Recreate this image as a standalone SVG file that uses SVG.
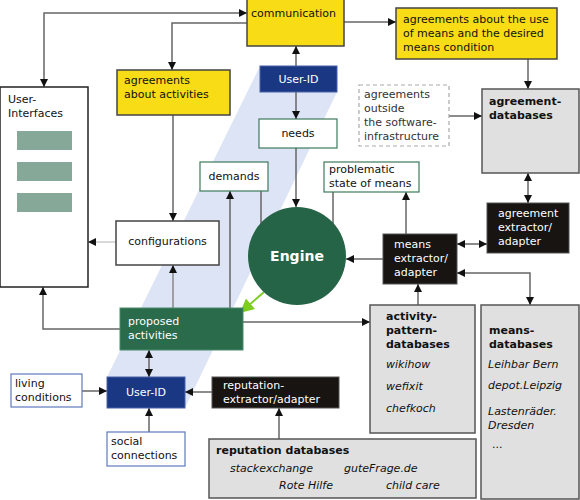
<svg xmlns="http://www.w3.org/2000/svg" width="580" height="500" viewBox="0 0 580 500">
<style>
text{font-family:"DejaVu Sans","Liberation Sans",sans-serif;font-size:11px;fill:#111}
.w{fill:#fff}
.b{font-weight:bold}
.i{font-style:italic}
.yel{fill:#f7dc16;stroke:#444;stroke-width:1.5}
.wg{fill:#fff;stroke:#3d7a5c;stroke-width:1.2}
.wb{fill:#fff;stroke:#6079bd;stroke-width:1.2}
.wk{fill:#fff;stroke:#444;stroke-width:1.5}
.db{fill:#e0e0e0;stroke:#555;stroke-width:1.5}
.blk{fill:#171411;stroke:#555;stroke-width:1}
.uid{fill:#1a3784;stroke:#4a62a8;stroke-width:1}
.c{fill:none;stroke:#666;stroke-width:1.5}
</style>
<defs>
<marker id="ah" viewBox="0 0 10 10" refX="10" refY="5" markerWidth="8" markerHeight="9" markerUnits="userSpaceOnUse" orient="auto-start-reverse"><path d="M0,0 L10,5 L0,10 z" fill="#111"/></marker>
<marker id="ag" viewBox="0 0 10 10" refX="10" refY="5" markerWidth="14" markerHeight="14" markerUnits="userSpaceOnUse" orient="auto"><path d="M0,0 L10,5 L0,10 z" fill="#7ccc22"/></marker>
</defs>
<rect width="580" height="500" fill="#fff"/>
<polygon points="260,66 337,66 337,92 185,408 107,408 107,377" fill="#dde4f6"/>

<g id="connectors">
<path class="c" d="M247,13 H44 V87" marker-start="url(#ah)" marker-end="url(#ah)"/>
<path class="c" d="M247,23 H172 V70" marker-end="url(#ah)"/>
<path class="c" d="M344,22 H396" marker-end="url(#ah)"/>
<path class="c" d="M296,66 V46" marker-end="url(#ah)"/>
<path class="c" d="M296,92 V119" marker-end="url(#ah)"/>
<path class="c" d="M296,148 V207" marker-end="url(#ah)"/>
<path class="c" d="M528,59 V89" marker-end="url(#ah)"/>
<path class="c" d="M449,116 H482" marker-end="url(#ah)"/>
<path class="c" d="M528,173 V203" marker-start="url(#ah)" marker-end="url(#ah)"/>
<path class="c" d="M457,244 H487" marker-start="url(#ah)" marker-end="url(#ah)"/>
<path class="c" d="M457,273 H530 V305" marker-start="url(#ah)" marker-end="url(#ah)"/>
<path class="c" d="M418,305 V284" marker-end="url(#ah)"/>
<path class="c" d="M406,234 V192" marker-end="url(#ah)"/>
<path class="c" d="M333,192 V241" marker-end="url(#ah)"/>
<path class="c" d="M383,259 H346" marker-end="url(#ah)"/>
<path class="c" d="M261,191 V240" marker-end="url(#ah)"/>
<path class="c" d="M230,308 V191" marker-end="url(#ah)"/>
<path class="c" d="M173,115 V221" marker-end="url(#ah)"/>
<path class="c" d="M116,242 H88" stroke="#ccc" style="stroke:#ccc" marker-end="url(#ah)"/>
<path class="c" d="M173,308 V265" style="stroke:#888" marker-end="url(#ah)"/>
<path class="c" d="M121,329 H43 V287" marker-end="url(#ah)"/>
<path d="M264,292 L240,313" fill="none" stroke="#7ccc22" stroke-width="2" marker-end="url(#ag)"/>
<path class="c" d="M243,322 H370" marker-end="url(#ah)"/>
<path class="c" d="M149,350 V377" marker-start="url(#ah)" marker-end="url(#ah)"/>
<path class="c" d="M82,391 H107" marker-end="url(#ah)"/>
<path class="c" d="M149,432 V408" marker-end="url(#ah)"/>
<path class="c" d="M212,392 H185" marker-end="url(#ah)"/>
<path class="c" d="M279,439 V408" marker-end="url(#ah)"/>
</g>

<g id="communication"><rect class="yel" x="247" y="-1" width="97" height="47"/><text x="251" y="17">communication</text></g>
<g id="agreements-use"><rect class="yel" x="396" y="8" width="161" height="51"/><text x="403" y="23">agreements about the use</text><text x="403" y="37">of means and the desired</text><text x="403" y="51">means condition</text></g>
<g id="agreements-activities"><rect class="yel" x="117" y="70" width="113" height="45"/><text x="124" y="84">agreements</text><text x="124" y="98">about activities</text></g>
<g id="user-interfaces"><rect x="0" y="87" width="88" height="200" fill="#fff" stroke="#222" stroke-width="1.5"/><text x="8" y="103">User-</text><text x="8" y="117">Interfaces</text><rect x="17" y="131" width="55" height="19" fill="#86a898"/><rect x="17" y="162" width="55" height="19" fill="#86a898"/><rect x="17" y="193" width="55" height="19" fill="#86a898"/></g>
<g id="userid-top"><rect class="uid" x="260" y="66" width="77" height="26"/><text class="w" x="298.5" y="83" text-anchor="middle">User-ID</text></g>
<g id="needs"><rect class="wg" x="259" y="119" width="78" height="29"/><text x="298" y="137" text-anchor="middle">needs</text></g>
<g id="outside"><rect x="359" y="85" width="90" height="61" fill="#fff" stroke="#aaa" stroke-width="1.2" stroke-dasharray="4,3"/><text x="364" y="98" style="fill:#333">agreements</text><text x="364" y="112" style="fill:#333">outside</text><text x="364" y="126" style="fill:#333">the software-</text><text x="364" y="140" style="fill:#333">infrastructure</text></g>
<g id="agreement-db"><rect class="db" x="482" y="89" width="97" height="84"/><text class="b" x="489" y="105">agreement-</text><text class="b" x="489" y="119">databases</text></g>
<g id="demands"><rect class="wg" x="200" y="162" width="68" height="29"/><text x="234" y="180" text-anchor="middle">demands</text></g>
<g id="problematic"><rect class="wg" x="324" y="162" width="95" height="30"/><text x="329" y="173">problematic</text><text x="329" y="187">state of means</text></g>
<g id="agreement-extractor"><rect class="blk" x="487" y="203" width="82" height="50"/><text class="w" x="498" y="217">agreement</text><text class="w" x="498" y="231">extractor/</text><text class="w" x="498" y="245">adapter</text></g>
<g id="configurations"><rect class="wk" x="116" y="221" width="103" height="44"/><text x="167.5" y="245" text-anchor="middle">configurations</text></g>
<g id="engine"><circle cx="297" cy="256" r="49" fill="#266447"/><text class="w b" x="297" y="261" text-anchor="middle" style="font-size:14px">Engine</text></g>
<g id="means-extractor"><rect class="blk" x="383" y="234" width="74" height="50"/><text class="w" x="394" y="248">means</text><text class="w" x="394" y="262">extractor/</text><text class="w" x="394" y="276">adapter</text></g>
<g id="proposed"><rect x="120" y="308" width="123" height="42" fill="#2a6b4b" stroke="#4a8a6a" stroke-width="1"/><text class="w" x="128" y="325">proposed</text><text class="w" x="128" y="339">activities</text></g>
<g id="activity-db"><rect class="db" x="370" y="305" width="105" height="128"/><text class="b" x="386" y="320">activity-</text><text class="b" x="386" y="334">pattern-</text><text class="b" x="386" y="348">databases</text><text class="i" x="386" y="368">wikihow</text><text class="i" x="386" y="390">wefixit</text><text class="i" x="386" y="412">chefkoch</text></g>
<g id="means-db"><rect class="db" x="481" y="305" width="98" height="194"/><text class="b" x="489" y="334">means-</text><text class="b" x="489" y="348">databases</text><text class="i" x="488" y="368">Leihbar Bern</text><text class="i" x="488" y="389">depot.Leipzig</text><text class="i" x="488" y="415">Lastenräder.</text><text class="i" x="488" y="429">Dresden</text><text x="492" y="448">...</text></g>
<g id="living"><rect class="wb" x="11" y="374" width="71" height="33"/><text x="15" y="387">living</text><text x="15" y="401">conditions</text></g>
<g id="userid-bottom"><rect class="uid" x="107" y="377" width="78" height="31"/><text class="w" x="146" y="396" text-anchor="middle">User-ID</text></g>
<g id="reputation-extractor"><rect class="blk" x="212" y="377" width="127" height="31"/><text class="w" x="223" y="389">reputation-</text><text class="w" x="223" y="403">extractor/adapter</text></g>
<g id="social"><rect class="wb" x="107" y="432" width="78" height="34"/><text x="111" y="445">social</text><text x="111" y="459">connections</text></g>
<g id="reputation-db"><rect class="db" x="209" y="439" width="267" height="59"/><text class="b" x="216" y="454">reputation databases</text><text class="i" x="230" y="472">stackexchange</text><text class="i" x="344" y="472">guteFrage.de</text><text class="i" x="279" y="489">Rote Hilfe</text><text class="i" x="386" y="489">child care</text></g>
</svg>
